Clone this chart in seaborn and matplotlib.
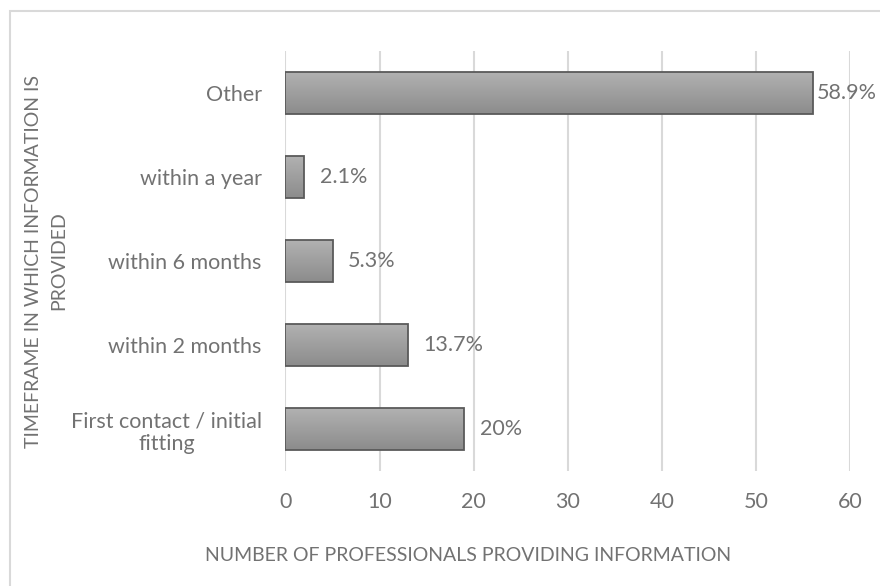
import numpy as np
import pandas as pd
import matplotlib
matplotlib.use("Agg")
import matplotlib.pyplot as plt
import seaborn as sns
from matplotlib.patches import Rectangle

# Survey data: number of professionals per timeframe
categories = ["Other", "within a year", "within 6 months", "within 2 months",
              "First contact / initial\nfitting"]
counts = [56, 2, 5, 13, 19]
x_ticks = [0, 10, 20, 30, 40, 50, 60]
x_title = "NUMBER OF PROFESSIONALS PROVIDING INFORMATION"
y_title = "TIMEFRAME IN WHICH INFORMATION IS\nPROVIDED"

total = sum(counts)
shares = [100 * c / total for c in counts]


def pct(v):
    s = f"{v:.1f}"
    if s.endswith(".0"):
        s = s[:-2]
    return s + "%"


df = pd.DataFrame({"timeframe": categories, "professionals": counts})

sns.set_theme(style="white")
plt.rcParams["font.family"] = ["Lato", "DejaVu Sans"]
text_color = "#727272"
grid_color = "#d9d9d9"
fs = 15.5
fs_title = 14

fig = plt.figure(figsize=(8.8, 5.86), dpi=100)
ax = fig.add_axes([0.3244, 0.196, 0.642, 0.717])

sns.barplot(data=df, y="timeframe", x="professionals", orient="h",
            width=0.5, color="#a0a0a0", edgecolor="#5a5a5a", linewidth=1.3,
            ax=ax, zorder=3)

ylim = ax.get_ylim()
ax.set_xlim(x_ticks[0], x_ticks[-1])

# vertical gradient fill inside each bar
grad = np.linspace(0, 1, 64).reshape(-1, 1)
cmap = matplotlib.colors.LinearSegmentedColormap.from_list(
    "bar", ["#b2b2b2", "#8c8c8c"])
for p in ax.patches:
    x0, y0 = p.get_x(), p.get_y()
    w, h = p.get_width(), p.get_height()
    im = ax.imshow(grad, cmap=cmap, aspect="auto", origin="upper",
                   extent=(x0, x0 + w, y0 + h, y0), zorder=2.5,
                   interpolation="bicubic")
    im.set_clip_path(p)
    p.set_facecolor("none")
ax.set_ylim(ylim)
ax.set_xlim(x_ticks[0], x_ticks[-1])

# value labels
for p, s in zip(ax.patches, shares):
    end = p.get_x() + p.get_width()
    off = 3 if end > 0.9 * x_ticks[-1] else 11
    ax.annotate(pct(s), (end, p.get_y() + p.get_height() / 2),
                xytext=(off, 0), textcoords="offset points",
                ha="left", va="center", fontsize=fs, color=text_color)

ax.set_xticks(x_ticks)
ax.xaxis.grid(True, color=grid_color, lw=1.5)
ax.set_axisbelow(True)
for sp in ax.spines.values():
    sp.set_visible(False)
ax.tick_params(axis="x", length=0, pad=15, labelsize=fs, labelcolor=text_color)
ax.tick_params(axis="y", length=0, pad=17, labelsize=fs, labelcolor=text_color)
for t in ax.get_yticklabels():
    t.set_multialignment("center")
    t.set_linespacing(1.15)

ax.set_xlabel(x_title, fontsize=fs_title, color=text_color, va="center")
ax.xaxis.set_label_coords(0.323, -0.2)
ax.set_ylabel(y_title, fontsize=fs_title, color=text_color, va="center",
              multialignment="center", linespacing=1.6)
ax.yaxis.set_label_coords(-0.424, 0.5)

fig.add_artist(Rectangle((10 / 880, -0.1), 1.2, (1 - 11 / 586) + 0.1,
                         transform=fig.transFigure, fill=False,
                         edgecolor=grid_color, lw=1.5))

fig.savefig("out.png", dpi=100)
